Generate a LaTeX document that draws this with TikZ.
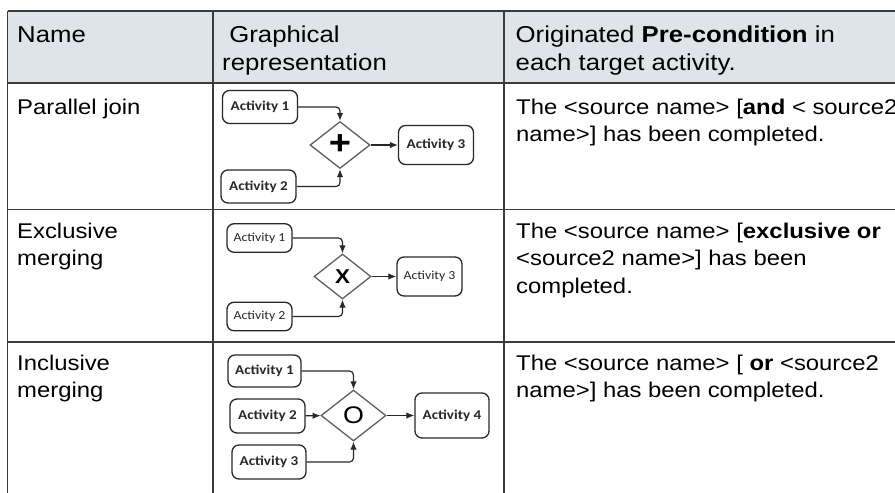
\documentclass[tikz,border=0pt]{standalone}
\usepackage{fontspec}
\setmainfont{Liberation Sans}[FakeStretch=1.12]
\newfontfamily\actfont{Carlito}[FakeStretch=1.12]
\usetikzlibrary{shapes.geometric,arrows.meta}
\definecolor{headgray}{RGB}{222,228,231}
\definecolor{rulegray}{RGB}{60,60,60}
\definecolor{boxgray}{RGB}{40,40,40}
\definecolor{gategray}{RGB}{95,95,95}

\begin{document}
\begin{tikzpicture}[x=1pt, y=-1pt, >={Latex[length=8pt,width=6.5pt]}, node distance=96pt]
\tikzstyle{rule}=[draw=rulegray, line width=1.6pt]
\tikzstyle{cell}=[anchor=base west, inner sep=0pt, font=\fontsize{21.3}{27.5}\selectfont]
\tikzstyle{head}=[cell, font=\fontsize{23}{28}\selectfont]
\tikzstyle{act}=[rectangle, rounded corners=7pt, draw=boxgray, line width=1.3pt, inner sep=0pt, text=boxgray,
  font=\actfont\bfseries\fontsize{13.5}{15}\selectfont, minimum width=75pt, minimum height=33pt]
\tikzstyle{actlight}=[act, font=\actfont\fontsize{12.3}{14}\selectfont, minimum width=65pt, minimum height=28.5pt]
\tikzstyle{gate}=[diamond, draw=gategray, line width=1.3pt, inner sep=0pt, minimum width=60pt, minimum height=47pt]
\tikzstyle{flow}=[draw=boxgray, line width=1.2pt, rounded corners=4pt]
\tikzstyle{elbow}=[flow, to path={-| (\tikztotarget) \tikztonodes}]

\useasboundingbox (0,0) rectangle (895,493);

% table
\fill[headgray] (7.5,11) rectangle (895,83);
\foreach \y in {11,83,209.5,342}
  \draw[rule] (7.5,\y) -- (895,\y);
\foreach \x in {7.5,213,504}
  \draw[rule] (\x,11) -- (\x,493);

\node[head] (hname) at (17,42) {Name};
\node[head] (hgraph) at (222,42) {\begin{tabular}[t]{@{}l@{}}\ Graphical\\representation\end{tabular}};
\node[head] (hpre) at (515.5,42) {\begin{tabular}[t]{@{}l@{}}Originated \textbf{Pre-condition} in\\each target activity.\end{tabular}};

\node[cell] (nand) at (17,114) {Parallel join};
\node[cell] (tand) at (516,114) {\begin{tabular}[t]{@{}l@{}}The <source name> [\textbf{and} < source2\\name>] has been completed.\end{tabular}};
\node[cell] (nxor) at (17,238) {\begin{tabular}[t]{@{}l@{}}Exclusive\\merging\end{tabular}};
\node[cell] (txor) at (516,238) {\begin{tabular}[t]{@{}l@{}}The <source name> [\textbf{exclusive or}\\<source2 name>] has been\\completed.\end{tabular}};
\node[cell] (nor) at (17,370) {\begin{tabular}[t]{@{}l@{}}Inclusive\\merging\end{tabular}};
\node[cell] (tor) at (516,370) {\begin{tabular}[t]{@{}l@{}}The <source name> [ \textbf{or} <source2\\name>] has been completed.\end{tabular}};

% parallel join
\node[gate] (plus) at (340,145) {\fontsize{34}{34}\selectfont\bfseries +};
\node[act] (p1) at (260,107) {Activity 1}
  edge [->, elbow] (plus);
\node[act] (p2) at (258.5,186.5) {Activity 2}
  edge [->, elbow] (plus);
\node[act, minimum height=39pt] (p3) [right of=plus] {Activity 3}
  edge [<-, flow] (plus);

% exclusive merging
\node[gate, minimum width=57pt, minimum height=45pt] (xor) at (342.5,276.5) {\fontsize{20}{20}\selectfont\bfseries X};
\node[actlight] (x1) at (259.5,238) {Activity 1}
  edge [->, elbow] (xor);
\node[actlight] (x2) [below of=x1, node distance=78.5pt] {Activity 2}
  edge [->, elbow] (xor);
\node[actlight, minimum height=39pt] (x3) [right of=xor, node distance=87pt] {Activity 3}
  edge [<-, flow] (xor);

% inclusive merging
\node[gate, minimum width=65pt, minimum height=51pt] (or) at (353.5,415.5) {\fontsize{24}{24}\selectfont O};
\node[act, minimum width=73pt, minimum height=32pt] (o1) at (264.5,371) {Activity 1}
  edge [->, elbow] (or);
\node[act, minimum height=34pt] (o2) at (267.5,416) {Activity 2}
  edge [->, flow] (or);
\node[act, minimum width=74pt, minimum height=34pt] (o3) at (269,462) {Activity 3}
  edge [->, elbow] (or);
\node[act, minimum width=74pt, minimum height=45pt] (o4) [right of=or, node distance=98.5pt] {Activity 4}
  edge [<-, flow] (or);

\end{tikzpicture}
\end{document}
